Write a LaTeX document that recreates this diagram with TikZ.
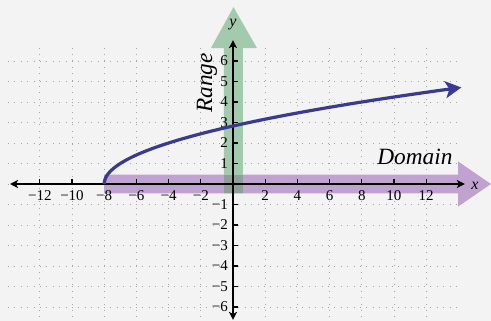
\documentclass[tikz,border=0pt]{standalone}
\usepackage{fontspec}
\setmainfont{Liberation Serif}
\usetikzlibrary{arrows.meta}
\newcommand\myminus{\char"2212\relax}
\definecolor{bgc}{RGB}{243,243,243}
\definecolor{gridc}{RGB}{165,165,165}
\definecolor{dompurple}{RGB}{192,162,208}
\definecolor{rangegreen}{RGB}{164,202,174}
\definecolor{overlapc}{RGB}{143,158,152}
\definecolor{curveblue}{RGB}{58,58,150}
\tikzset{
  gridline/.style={gridc, line width=0.6pt, dash pattern=on 0.8pt off 5.6pt},
  axisline/.style={black, line width=1.3pt, >={Stealth[length=8pt,width=8pt,inset=2pt]}},
  tickline/.style={black, line width=1.2pt},
  ticklab/.style={font=\fontsize{15}{15}\selectfont, inner sep=0pt},
  biglab/.style={font=\fontsize{23.3}{24}\selectfont\itshape, inner sep=0pt},
  axlab/.style={font=\fontsize{16}{16}\selectfont\itshape, inner sep=0pt},
}
\begin{document}
\begin{tikzpicture}[x=16.1pt,y=20.5pt]
\fill[bgc] (-233pt,-137pt) rectangle (258pt,184pt);
\useasboundingbox (-233pt,-137pt) rectangle (258pt,184pt);
% grid
\foreach \i in {-12,-10,...,12} \draw[gridline] (\i,-6.5) -- (\i,6.68);
\foreach \j in {-6,...,6} \draw[gridline] (-13.97,\j) -- (13.97,\j);
% domain band
\fill[dompurple] (-8,-0.46) -- (13.98,-0.46) -- (13.98,-1.1) -- (16.02,0) -- (13.98,1.1) -- (13.98,0.46) -- (-8,0.46) -- cycle;
% range band
\fill[rangegreen] (-0.56,-0.46) -- (-0.56,6.63) -- (-1.37,6.63) -- (0.03,8.63) -- (1.49,6.63) -- (0.62,6.63) -- (0.62,-0.46) -- cycle;
\fill[overlapc] (-0.56,-0.46) rectangle (0.62,0.46);
% axes
\coordinate (xl) at (-13.85,0);
\coordinate (xr) at (14.4,0);
\coordinate (yb) at (0,-6.63);
\coordinate (yt) at (0,7.02);
\draw[axisline, <->] (xl) -- (xr);
\draw[axisline, <->] (yb) -- (yt);
\foreach \i in {-12,-10,...,-2} {
  \draw[tickline] (\i,0) -- ++(0,5pt);
  \node[ticklab, anchor=base] (xt\i) at ([yshift=-17pt]\i,0) {\myminus\the\numexpr-\i\relax};
}
\foreach \i in {2,4,...,12} {
  \draw[tickline] (\i,0) -- ++(0,5pt);
  \node[ticklab, anchor=base] (xt\i) at ([yshift=-17pt]\i,0) {\i};
}
\foreach \j in {1,...,6} {
  \draw[tickline] (0,\j) -- ++(5pt,0);
  \node[ticklab, anchor=east] (yt\j) at ([xshift=-5pt]0,\j) {\j};
  \draw[tickline] (0,-\j) -- ++(5pt,0);
  \node[ticklab, anchor=east] (ytm\j) at ([xshift=-5pt]0,-\j) {\myminus\j};
}
\node[axlab] (xlab) at (15.03,-0.1) {x};
\node[axlab] (ylab) at (0,7.76) {y};
% curve
\draw[curveblue, line width=3.2pt, -{Stealth[length=16pt,width=17pt,inset=4pt]}]
  plot[domain=0:4.71, samples=80, smooth] ({\x*\x-8},{\x});
% labels
\node[biglab, anchor=base] (dom) at (11.3,0.93) {Domain};
\node[biglab, anchor=base, rotate=90] (rng) at (-1.30,4.93) {Range};
\end{tikzpicture}
\end{document}
